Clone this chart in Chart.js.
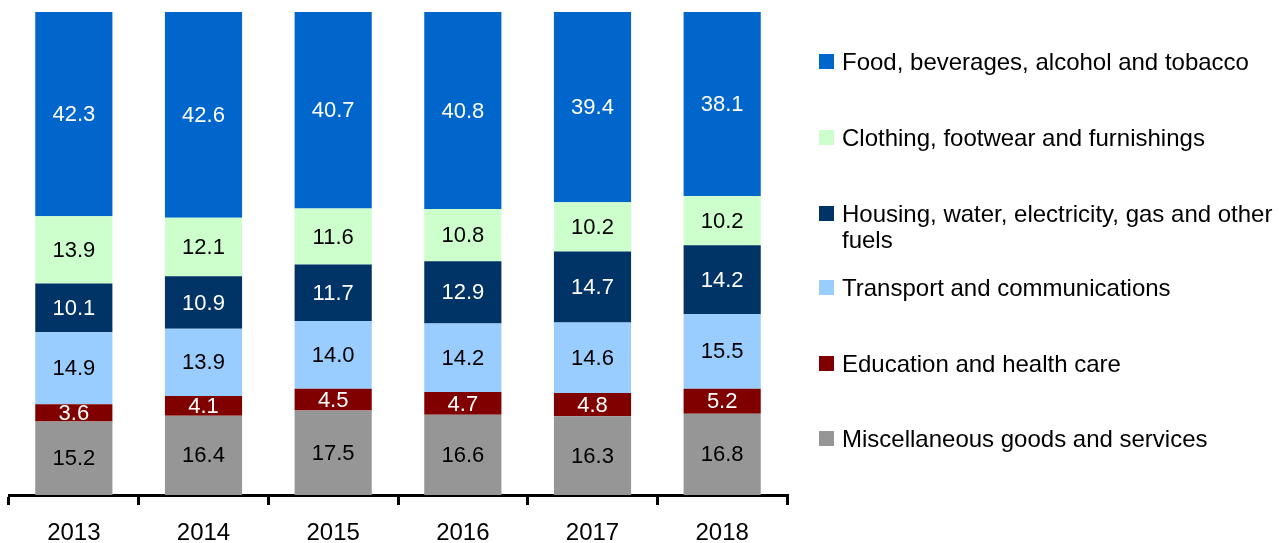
<!DOCTYPE html>
<html>
<head>
<meta charset="utf-8">
<script src="https://cdn.jsdelivr.net/npm/chart.js@4/dist/chart.umd.min.js"></script>
<style>
  html, body { margin: 0; padding: 0; background: #fff; }
  #wrap { position: relative; width: 1286px; height: 543px; }
  #legend { position: absolute; left: 0; top: 0; font-family: "Liberation Sans", Arial, sans-serif; font-size: 24px; color: #000; }
  .item { position: absolute; left: 819px; width: 460px; }
  .box { position: absolute; left: 0; width: 15px; height: 15px; }
  .txt { position: absolute; left: 23px; line-height: 26px; width: 440px; }
</style>
</head>
<body>
<div id="wrap">
  <canvas id="chart" width="1286" height="543"></canvas>
  <div id="legend"></div>
</div>
<script>
const years = ["2013", "2014", "2015", "2016", "2017", "2018"];

// stacked from bottom to top
const misc      = [15.2, 16.4, 17.5, 16.6, 16.3, 16.8];
const education = [3.6, 4.1, 4.5, 4.7, 4.8, 5.2];
const transport = [14.9, 13.9, 14.0, 14.2, 14.6, 15.5];
const housing   = [10.1, 10.9, 11.7, 12.9, 14.7, 14.2];
const clothing  = [13.9, 12.1, 11.6, 10.8, 10.2, 10.2];
const food      = [42.3, 42.6, 40.7, 40.8, 39.4, 38.1];

const series = [
  { label: "Miscellaneous goods and services", data: misc, color: "#969696", text: "#000" },
  { label: "Education and health care", data: education, color: "#800000", text: "#fff" },
  { label: "Transport and communications", data: transport, color: "#99CCFF", text: "#000" },
  { label: "Housing, water, electricity, gas and other fuels", data: housing, color: "#003366", text: "#fff" },
  { label: "Clothing, footwear and furnishings", data: clothing, color: "#CCFFCC", text: "#000" },
  { label: "Food, beverages, alcohol and tobacco", data: food, color: "#0066CC", text: "#fff" }
];

const FONT = "'Liberation Sans', Arial, sans-serif";

// draw the value in the middle of each bar segment
const barLabels = {
  id: "barLabels",
  afterDatasetsDraw(chart) {
    const ctx = chart.ctx;
    ctx.save();
    ctx.font = "22px " + FONT;
    ctx.textAlign = "center";
    ctx.textBaseline = "middle";
    chart.data.datasets.forEach((ds, i) => {
      const meta = chart.getDatasetMeta(i);
      meta.data.forEach((bar, j) => {
        const p = bar.getProps(["x", "y", "base"], true);
        ctx.fillStyle = series[i].text;
        ctx.fillText(ds.data[j].toFixed(1), p.x, (p.y + p.base) / 2 + 1);
      });
    });
    ctx.restore();
  }
};

new Chart(document.getElementById("chart"), {
  type: "bar",
  data: {
    labels: years,
    datasets: series.map(s => ({
      label: s.label,
      data: s.data,
      backgroundColor: s.color,
      borderWidth: 0,
      barPercentage: 0.595,
      categoryPercentage: 1.0
    }))
  },
  options: {
    responsive: false,
    animation: false,
    layout: { padding: { left: 9, right: 499, top: 12, bottom: 0 } },
    plugins: {
      legend: { display: false },
      tooltip: { enabled: false }
    },
    scales: {
      x: {
        stacked: true,
        afterFit: scale => { scale.height = 48; },
        grid: {
          offset: true,
          drawOnChartArea: false,
          drawTicks: true,
          tickLength: 10,
          color: "#000",
          lineWidth: 3
        },
        border: { display: true, color: "#000", width: 3 },
        ticks: {
          color: "#000",
          padding: 14,
          font: { family: FONT, size: 24 }
        }
      },
      y: {
        stacked: true,
        display: false,
        min: 0,
        max: 100
      }
    }
  },
  plugins: [barLabels]
});

// legend, top item first
const legendTops = [52, 128, 204, 278, 354, 429];
const legend = document.getElementById("legend");
series.slice().reverse().forEach((s, i) => {
  const item = document.createElement("div");
  item.className = "item";
  item.style.top = legendTops[i] + "px";
  item.innerHTML = `<div class="box" style="top:2px;background:${s.color}"></div><div class="txt" style="top:-3px">${s.label}</div>`;
  legend.appendChild(item);
});
</script>
</body>
</html>
